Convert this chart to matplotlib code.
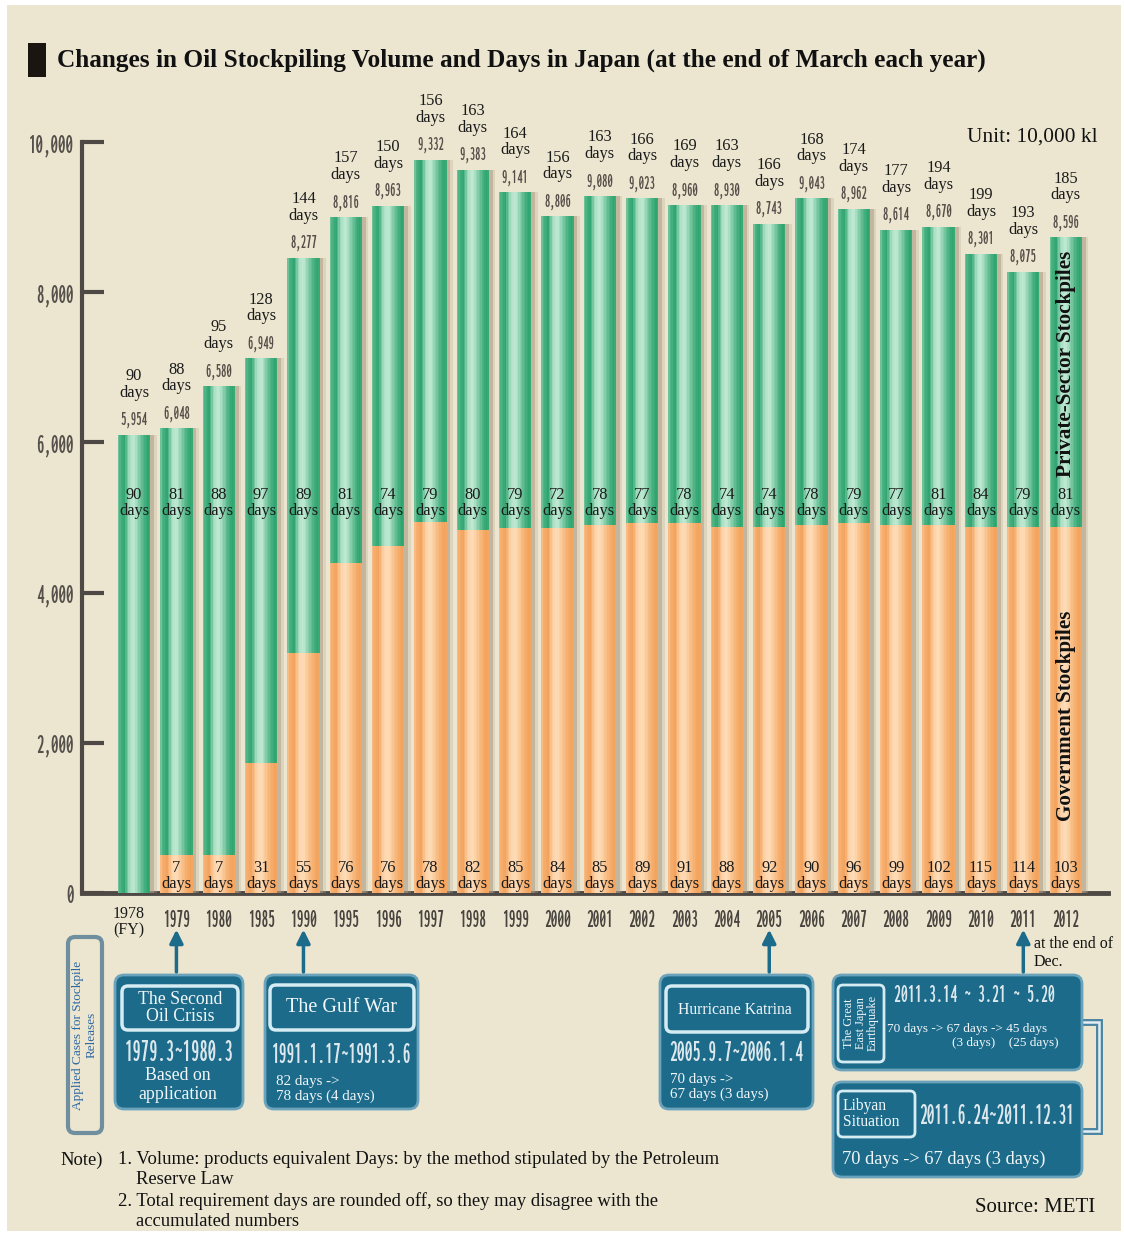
import numpy as np
import matplotlib
matplotlib.use('Agg')
import matplotlib.pyplot as plt
from matplotlib.patches import FancyBboxPatch, Rectangle
from matplotlib import font_manager as fm
import matplotlib.colors as mcolors

# ---------------- data (units: 10,000 kl) ----------------
years = ['1978', '1979', '1980', '1985', '1990', '1995', '1996', '1997', '1998', '1999',
         '2000', '2001', '2002', '2003', '2004', '2005', '2006', '2007', '2008', '2009',
         '2010', '2011', '2012']
total_volume = [6100, 6190, 6750, 7120, 8460, 9000, 9150, 9760, 9630, 9330, 9010, 9280,
                9250, 9160, 9160, 8910, 9250, 9110, 8830, 8870, 8510, 8270, 8730]
gov_volume = [0, 510, 510, 1730, 3200, 4390, 4620, 4940, 4830, 4860, 4860, 4900,
              4930, 4930, 4870, 4870, 4900, 4930, 4900, 4900, 4870, 4870, 4870]
volume_labels = ['5,954', '6,048', '6,580', '6,949', '8,277', '8,816', '8,963', '9,332',
                 '9,383', '9,141', '8,806', '9,080', '9,023', '8,960', '8,930', '8,743',
                 '9,043', '8,962', '8,614', '8,670', '8,301', '8,075', '8,596']
total_days = [90, 88, 95, 128, 144, 157, 150, 156, 163, 164, 156, 163, 166, 169, 163,
              166, 168, 174, 177, 194, 199, 193, 185]
private_days = [90, 81, 88, 97, 89, 81, 74, 79, 80, 79, 72, 78, 77, 78, 74, 74, 78, 79,
                77, 81, 84, 79, 81]
gov_days = [None, 7, 7, 31, 55, 76, 76, 78, 82, 85, 84, 85, 89, 91, 88, 92, 90, 96, 99,
            102, 115, 114, 103]
yticks = [0, 2000, 4000, 6000, 8000, 10000]
ytick_labels = ['0', '2,000', '4,000', '6,000', '8,000', '10,000']
release_years = ['1979', '1990', '2005', '2011']

# ---------------- fonts ----------------
SERIF = 'Liberation Serif'
plt.rcParams['font.family'] = [SERIF, 'DejaVu Serif']


def _is_bold(f):
    w = f.weight
    if isinstance(w, str):
        return any(k in w.lower() for k in ('bold', 'black', 'heavy'))
    return w >= 600


def narrowest_bold():
    best = None
    for f in fm.fontManager.ttflist:
        n = f.name
        if any(k in n for k in ('Serif', 'Mono', 'CJK', 'Math')):
            continue
        if f.style != 'normal' or not _is_bold(f):
            continue
        try:
            ft = fm.get_font(f.fname)
            ft.set_size(40, 100)
            ft.set_text('1979.3~80', 0.0)
            w, _ = ft.get_width_height()
            ft.set_text('8', 0.0)
            _, h = ft.get_width_height()
        except Exception:
            continue
        if h <= 0:
            continue
        r = w / h
        if best is None or r < best[0]:
            best = (r, f.fname)
    if best:
        return fm.FontProperties(fname=best[1])
    return fm.FontProperties(family='Liberation Sans', weight='bold')


NFP = narrowest_bold()

BG = '#ece6d0'
AXC = '#4e4944'
G_DARK, G_LIGHT = '#27a16a', '#c2ead4'
O_DARK, O_LIGHT = '#f3a057', '#fedcb8'
BOX = '#1c6b8b'
BOX_EDGE = '#6aa3bb'
INNER_EDGE = '#d6ecf3'
BOX_TXT = '#f2f7f9'
DATE_TXT = '#dde8ed'

W, H = 1124, 1233
fig = plt.figure(figsize=(W / 100, H / 100), dpi=100)
fig.patch.set_facecolor('white')
R = fig.canvas.get_renderer()


def NF(size):
    p = NFP.copy()
    p.set_size(size)
    return p


def fit(s, target_px, ref=20.0):
    t = fig.text(0, 0, s, fontproperties=NF(ref))
    w = t.get_window_extent(renderer=R).width
    t.remove()
    return ref * target_px / w


# background
ax_bg = fig.add_axes([0, 0, 1, 1])
ax_bg.set_xlim(0, W); ax_bg.set_ylim(H, 0); ax_bg.axis('off')
ax_bg.add_patch(Rectangle((7, 5), W - 10, H - 7, fc=BG, ec='none'))

# ---------------- main chart ----------------
ax = fig.add_axes([82 / W, (H - 893) / H, 1026 / W, 751 / H])
ax.set_zorder(2)
ax.set_facecolor('none')
idx = np.arange(len(years))
tot = np.array(total_volume, dtype=float)
gov = np.array(gov_volume, dtype=float)
priv = tot - gov
bw = 0.76


def mix(c1, c2, t):
    a = np.array(mcolors.to_rgb(c1)); b = np.array(mcolors.to_rgb(c2))
    return tuple(a + (b - a) * t)


# soft shadow on the right of each cylinder
ax.bar(idx + 0.09, tot, bw, color='#a3937c', alpha=0.5, lw=0, zorder=2.6)
ax.bar(idx + 0.15, tot, bw, color='#b9ab92', alpha=0.30, lw=0, zorder=2.6)

# cylinder shading: vertical slices across each bar (0 = dark, 1 = light)
prof_x = [0.0, 0.07, 0.2, 0.36, 0.5, 0.64, 0.8, 0.93, 1.0]
prof_t = [0.55, 0.25, 0.05, 0.85, 1.0, 0.65, 0.25, 0.05, 0.15]
ns = 22
sw = bw / ns
for k in range(ns):
    c = (k + 0.5) / ns
    t = float(np.interp(c, prof_x, prof_t))
    off = -bw / 2 + (k + 0.5) * sw
    ax.bar(idx + off, gov, sw * 1.08, color=mix(O_DARK, O_LIGHT, t), lw=0, zorder=3)
    ax.bar(idx + off, priv, sw * 1.08, bottom=gov, color=mix(G_DARK, G_LIGHT, t), lw=0,
           zorder=3)

ax.set_xlim(-1.23, 23.0)
ax.set_ylim(0, 10000)
for s in ['top', 'right']:
    ax.spines[s].set_visible(False)
ax.spines['left'].set_color(AXC); ax.spines['left'].set_linewidth(3)
ax.spines['left'].set_bounds(0, 10000)
ax.spines['bottom'].set_color(AXC); ax.spines['bottom'].set_linewidth(3.5)
ax.set_yticks(yticks)
ax.set_yticklabels(ytick_labels, fontproperties=NF(fit('10,000', 45)), color='#55504b')
ax.tick_params(axis='y', direction='in', length=16, width=3, color=AXC, pad=6)
ax.set_xticks([])

YEAR_FS = fit('1979', 27)
VAL_FS = fit('5,954', 27)
PX = 10000 / 751.0  # data units per pixel
xt = ax.get_xaxis_transform()
for i in idx:
    ax.text(i, tot[i] + 15 * PX, volume_labels[i], ha='center', va='center',
            fontproperties=NF(VAL_FS), color='#574e49', zorder=10, clip_on=False)
    ax.text(i, tot[i] + 34 * PX, f'{total_days[i]}\ndays', ha='center', va='bottom',
            fontsize=11.8, linespacing=1.05, color='#1a1a1a', zorder=10, clip_on=False)
    ax.text(i, 390 * PX, f'{private_days[i]}\ndays', ha='center', va='center',
            fontsize=11.8, linespacing=1.05, color='#1a1a1a', zorder=10)
    if gov_days[i] is not None:
        ax.text(i, 17 * PX, f'{gov_days[i]}\ndays', ha='center', va='center',
                fontsize=11.8, linespacing=1.05, color='#1a1a1a', zorder=10)
    if i == 0:
        ax.text(i - 0.12, -0.039, '1978\n(FY)', transform=xt, ha='center', va='center',
                fontsize=11.5, linespacing=1.1, color='#1a1a1a', clip_on=False)
    else:
        ax.text(i, -0.036, years[i], transform=xt, ha='center', va='center',
                fontproperties=NF(YEAR_FS), color='#4a4440', clip_on=False)

ax.text(22, 7040, 'Private-Sector Stockpiles', rotation=90, ha='center', va='center',
        fontsize=15.2, weight='bold', color='#111', zorder=11)
ax.text(22, 2360, 'Government Stockpiles', rotation=90, ha='center', va='center',
        fontsize=15.2, weight='bold', color='#111', zorder=11)

for y in release_years:
    i = years.index(y)
    ax.annotate('', xy=(i, -0.045), xytext=(i, -0.109), xycoords=xt, textcoords=xt,
                arrowprops=dict(arrowstyle='-|>', color=BOX, lw=2.5, mutation_scale=20),
                annotation_clip=False)

# ---------------- overlay (titles, boxes, notes) ----------------
ao = fig.add_axes([0, 0, 1, 1])
ao.set_zorder(3)
ao.set_facecolor('none')
ao.set_xlim(0, W); ao.set_ylim(H, 0); ao.axis('off')

ao.add_patch(Rectangle((28, 43), 18, 34, fc='#1b1512', ec='none'))
ao.text(57, 60, 'Changes in Oil Stockpiling Volume and Days in Japan (at the end of March each year)',
        fontsize=18.2, weight='bold', va='center', ha='left', color='#111')
ao.text(1098, 137, 'Unit: 10,000 kl', fontsize=15.4, ha='right', va='center', color='#111')


def rbox(x0, y0, x1, y1, fc=BOX, ec=BOX_EDGE, lw=2, r=9, z=1):
    ao.add_patch(FancyBboxPatch((x0, y0), x1 - x0, y1 - y0,
                                boxstyle=f'round,pad=0,rounding_size={r}',
                                fc=fc, ec=ec, lw=lw, zorder=z))


def date(x0, x1, y, s):
    ao.text((x0 + x1) / 2, y, s, fontproperties=NF(fit(s, x1 - x0)), color=DATE_TXT,
            ha='center', va='center', zorder=5)


def btxt(x, y, s, size=11, ha='center', **kw):
    ao.text(x, y, s, fontsize=size, color=BOX_TXT, ha=ha, va='center', zorder=5, **kw)


rbox(68, 937, 102, 1133, fc=BG, ec='#6f8e9e', lw=3, r=7)
ao.text(85, 1035, 'Applied Cases for Stockpile\nReleases', rotation=90, ha='center',
        va='center', multialignment='center', fontsize=9.5, color='#2a67a3',
        linespacing=1.15)

rbox(115, 975, 243, 1109)
rbox(122, 986, 238, 1030, ec=INNER_EDGE, lw=2.5, r=6)
btxt(180, 1008, 'The Second\nOil Crisis', 12.8, linespacing=1.05)
date(125, 234, 1053, '1979.3~1980.3')
btxt(178, 1085, 'Based on\napplication', 12.8, linespacing=1.1)

rbox(265, 975, 418, 1109)
rbox(270, 985, 414, 1030, ec=INNER_EDGE, lw=2.5, r=6)
btxt(341, 1008, 'The Gulf War', 14.5)
date(271, 412, 1055, '1991.1.17~1991.3.6')
btxt(276, 1089, '82 days ->\n78 days (4 days)', 10.8, ha='left', linespacing=1.2)

rbox(660, 975, 813, 1109)
rbox(666, 986, 808, 1032, ec=INNER_EDGE, lw=2.5, r=6)
btxt(735, 1010, 'Hurricane Katrina', 11.3)
date(669, 803, 1053, '2005.9.7~2006.1.4')
btxt(670, 1087, '70 days ->\n67 days (3 days)', 10.8, ha='left', linespacing=1.2)

ao.plot([1082, 1099, 1099, 1082], [1022, 1022, 1131, 1131], color='#4a86a2', lw=5,
        solid_joinstyle='miter', zorder=0.5)
ao.plot([1082, 1099, 1099, 1082], [1022, 1022, 1131, 1131], color='#e4eff3', lw=1.8,
        solid_joinstyle='miter', zorder=0.6)

rbox(833, 975, 1082, 1070)
rbox(838, 985, 884, 1062, ec=INNER_EDGE, lw=2, r=5)
btxt(861, 1023, 'The Great\nEast Japan\nEarthquake', 8.8, rotation=90, linespacing=1.0,
     multialignment='center')
date(893, 1055, 995, '2011.3.14 ~ 3.21 ~ 5.20')
btxt(887, 1029, '70 days -> 67 days -> 45 days', 9.5, ha='left')
btxt(1059, 1043, '(3 days)    (25 days)', 9.5, ha='right')

rbox(833, 1082, 1082, 1177)
rbox(838, 1091, 915, 1137, ec=INNER_EDGE, lw=2, r=5)
btxt(843, 1114, 'Libyan\nSituation', 11.2, ha='left', linespacing=1.0)
date(919, 1075, 1116, '2011.6.24~2011.12.31')
btxt(842, 1159, '70 days -> 67 days (3 days)', 13.2, ha='left')

ao.text(1034, 953, 'at the end of\nDec.', fontsize=11.5, ha='left', va='center',
        color='#111', linespacing=1.2)

NOTE = 13.4
ao.text(60, 1160, 'Note)', fontsize=NOTE, va='center', color='#111')
ao.text(118, 1160, '1. Volume: products equivalent Days: by the method stipulated by the Petroleum',
        fontsize=NOTE, va='center', color='#111')
ao.text(136, 1180, 'Reserve Law', fontsize=NOTE, va='center', color='#111')
ao.text(118, 1201, '2. Total requirement days are rounded off, so they may disagree with the',
        fontsize=NOTE, va='center', color='#111')
ao.text(136, 1222, 'accumulated numbers', fontsize=NOTE, va='center', color='#111')
ao.text(1095, 1208, 'Source: METI', fontsize=15, ha='right', va='center', color='#111')

fig.savefig('out.png', dpi=100, facecolor=fig.get_facecolor())
